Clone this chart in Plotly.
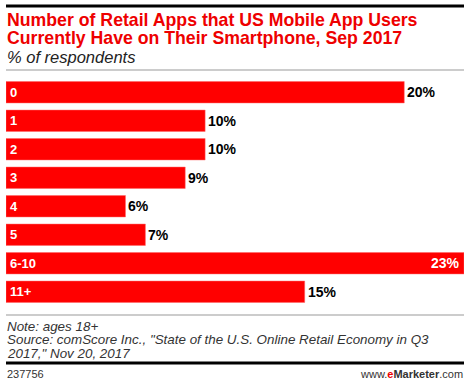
import plotly.graph_objects as go

categories = ["0", "1", "2", "3", "4", "5", "6-10", "11+"]
values = [20, 10, 10, 9, 6, 7, 23, 15]

title_lines = ["Number of Retail Apps that US Mobile App Users",
               "Currently Have on Their Smartphone, Sep 2017"]
subtitle = "% of respondents"
footer_lines = ["Note: ages 18+",
                "Source: comScore Inc., \"State of the U.S. Online Retail Economy in Q3",
                "2017,\" Nov 20, 2017"]

W, H = 470, 385
L, R, T, B = 6, 6, 78, 79
PW, PH = W - L - R, H - T - B

def py(p):
    return (H - B - p) / PH

def px(p):
    return (p - L) / PW

FONT = "Liberation Sans, Arial, sans-serif"

fig = go.Figure(go.Bar(
    x=values, y=categories, orientation="h",
    marker=dict(color="#ff0000", line=dict(color="#ff6666", width=0.5)),
    hoverinfo="skip",
))

ann = []
vmax = max(values)
for c, v in zip(categories, values):
    ann.append(dict(x=0, y=c, xref="x", yref="y", text=f"<b>{c}</b>", showarrow=False,
                    xanchor="left", xshift=2, font=dict(family=FONT, size=13, color="white")))
    if v == vmax:
        ann.append(dict(x=v, y=c, xref="x", yref="y", text=f"<b>{v}%</b>", showarrow=False,
                        xanchor="right", xshift=-2, font=dict(family=FONT, size=14, color="white")))
    else:
        ann.append(dict(x=v, y=c, xref="x", yref="y", text=f"<b>{v}%</b>", showarrow=False,
                        xanchor="left", xshift=1, font=dict(family=FONT, size=14, color="black")))

for line, yc in zip(title_lines, [19.5, 37.5]):
    ann.append(dict(x=px(5), y=py(yc), xref="paper", yref="paper", xanchor="left", yanchor="middle",
                    text=f"<b>{line}</b>", showarrow=False,
                    font=dict(family=FONT, size=17.7, color="#ee0000")))
ann.append(dict(x=px(5), y=py(57), xref="paper", yref="paper", xanchor="left", yanchor="middle",
                text=f"<i>{subtitle}</i>", showarrow=False,
                font=dict(family=FONT, size=16.5, color="#222222")))
for line, yc in zip(footer_lines, [326, 339.5, 353]):
    ann.append(dict(x=px(5), y=py(yc), xref="paper", yref="paper", xanchor="left", yanchor="middle",
                    text=f"<i>{line}</i>", showarrow=False,
                    font=dict(family=FONT, size=13.4, color="#333333")))
ann += [
    dict(x=px(5), y=py(374), xref="paper", yref="paper", xanchor="left", yanchor="middle",
         text="237756", showarrow=False, font=dict(family=FONT, size=11, color="#333333")),
    dict(x=px(465), y=py(374), xref="paper", yref="paper", xanchor="right", yanchor="middle",
         text="www.<b><span style='color:#ee0000'>e</span>Marketer</b>.com", showarrow=False,
         font=dict(family=FONT, size=11, color="#333333")),
]

shapes = [
    dict(type="line", xref="paper", yref="paper", x0=0, x1=1, y0=py(6), y1=py(6),
         line=dict(color="black", width=3)),
    dict(type="line", xref="paper", yref="paper", x0=0, x1=1, y0=py(70), y1=py(70),
         line=dict(color="#999999", width=1)),
    dict(type="line", xref="paper", yref="paper", x0=0, x1=1, y0=py(315), y1=py(315),
         line=dict(color="#999999", width=1)),
    dict(type="line", xref="paper", yref="paper", x0=0, x1=1, y0=py(363), y1=py(363),
         line=dict(color="black", width=3)),
]

fig.update_layout(
    width=W, height=H, margin=dict(l=L, r=R, t=T, b=B),
    paper_bgcolor="white", plot_bgcolor="white",
    showlegend=False, bargap=0.25,
    xaxis=dict(range=[0, 23], visible=False, fixedrange=True),
    yaxis=dict(categoryorder="array", categoryarray=categories, autorange="reversed",
               visible=False, fixedrange=True),
    annotations=ann, shapes=shapes,
)

fig.write_html("out.html", config={"displayModeBar": False},
               post_script="document.body.style.margin='0';document.body.style.overflow='hidden';")
